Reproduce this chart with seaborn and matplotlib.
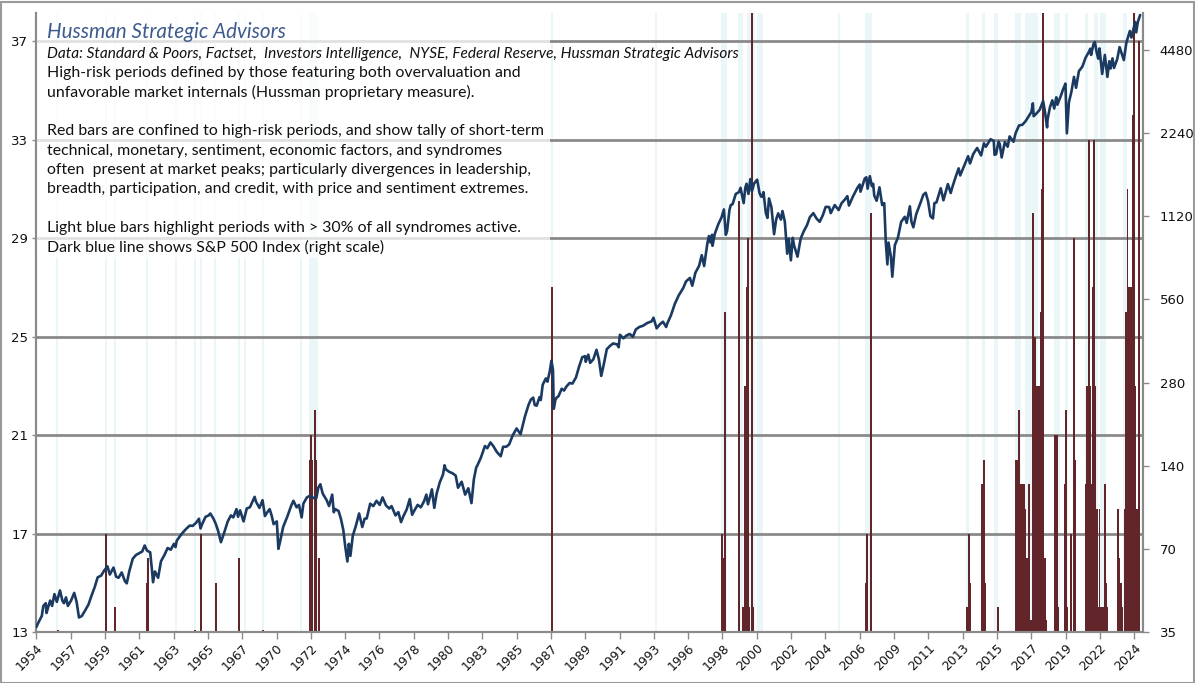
import matplotlib
matplotlib.use("Agg")
import matplotlib.pyplot as plt
from matplotlib.patches import Rectangle
from matplotlib.ticker import NullLocator
import pandas as pd
import seaborn as sns

# ---------------- data ----------------
sp_year = [
    1955.11, 1955.2, 1955.3, 1955.45, 1955.55, 1955.7, 1955.75, 1955.85, 1955.98,
    1956.1, 1956.25, 1956.4, 1956.6, 1956.75, 1956.85, 1956.98,
    1957.1, 1957.3, 1957.5, 1957.65, 1957.8, 1957.98,
    1958.2, 1958.4, 1958.6, 1958.8, 1958.98,
    1959.2, 1959.4, 1959.6, 1959.75, 1959.98,
    1960.15, 1960.3, 1960.5, 1960.7, 1960.82, 1960.98,
    1961.2, 1961.4, 1961.6, 1961.8, 1961.95,
    1962.1, 1962.3, 1962.42, 1962.48, 1962.6, 1962.8, 1962.98,
    1963.2, 1963.4, 1963.6, 1963.8, 1963.9, 1963.98,
    1964.3, 1964.6, 1964.8, 1964.98,
    1965.2, 1965.38, 1965.48, 1965.6, 1965.8, 1965.98,
    1966.1, 1966.3, 1966.45, 1966.6, 1966.77, 1966.98,
    1967.2, 1967.4, 1967.55, 1967.75, 1967.85, 1967.98,
    1968.2, 1968.4, 1968.6, 1968.9, 1968.98,
    1969.2, 1969.4, 1969.55, 1969.7, 1969.85, 1969.98,
    1970.1, 1970.3, 1970.4, 1970.5, 1970.7, 1970.98,
    1971.2, 1971.35, 1971.55, 1971.7, 1971.87, 1971.98,
    1972.2, 1972.4, 1972.6, 1972.8, 1972.92, 1972.98,
    1973.05, 1973.2, 1973.45, 1973.6, 1973.8, 1973.9, 1973.98,
    1974.2, 1974.35, 1974.5, 1974.63, 1974.76, 1974.85, 1974.95,
    1975.1, 1975.3, 1975.5, 1975.7, 1975.85, 1975.98,
    1976.2, 1976.4, 1976.6, 1976.8, 1976.98,
    1977.2, 1977.4, 1977.55, 1977.8, 1977.98,
    1978.15, 1978.3, 1978.5, 1978.7, 1978.85, 1978.98,
    1979.2, 1979.4, 1979.6, 1979.75, 1979.85, 1979.98,
    1980.1, 1980.25, 1980.4, 1980.6, 1980.8, 1980.9, 1980.98,
    1981.2, 1981.4, 1981.6, 1981.75, 1981.98,
    1982.2, 1982.4, 1982.6, 1982.75, 1982.9, 1982.98,
    1983.2, 1983.45, 1983.6, 1983.8, 1983.98,
    1984.2, 1984.45, 1984.6, 1984.8, 1984.98,
    1985.2, 1985.45, 1985.7, 1985.9, 1985.98,
    1986.2, 1986.35, 1986.5, 1986.6, 1986.72, 1986.9, 1986.98,
    1987.1, 1987.3, 1987.4, 1987.55, 1987.65, 1987.75, 1987.8, 1987.9, 1987.98,
    1988.1, 1988.3, 1988.45, 1988.6, 1988.8, 1988.98,
    1989.2, 1989.4, 1989.6, 1989.78, 1989.82, 1989.98,
    1990.1, 1990.3, 1990.5, 1990.65, 1990.8, 1990.98,
    1991.15, 1991.35, 1991.55, 1991.8, 1991.9, 1991.98,
    1992.2, 1992.4, 1992.6, 1992.8, 1992.98,
    1993.2, 1993.45, 1993.7, 1993.98,
    1994.1, 1994.3, 1994.5, 1994.7, 1994.9, 1994.98,
    1995.2, 1995.45, 1995.7, 1995.98,
    1996.15, 1996.4, 1996.55, 1996.75, 1996.98,
    1997.15, 1997.3, 1997.5, 1997.6, 1997.7, 1997.8, 1997.83, 1997.98,
    1998.2, 1998.4, 1998.55, 1998.67, 1998.75, 1998.9, 1998.98,
    1999.1, 1999.3, 1999.5, 1999.6, 1999.8, 1999.9, 1999.98,
    2000.1, 2000.22, 2000.32, 2000.45, 2000.65, 2000.8, 2000.9, 2000.98,
    2001.05, 2001.2, 2001.3, 2001.4, 2001.55, 2001.72, 2001.85, 2001.98,
    2002.15, 2002.25, 2002.4, 2002.55, 2002.65, 2002.78, 2002.9, 2002.98,
    2003.2, 2003.4, 2003.6, 2003.8, 2003.98,
    2004.2, 2004.4, 2004.6, 2004.8, 2004.98,
    2005.2, 2005.3, 2005.55, 2005.8, 2005.98,
    2006.2, 2006.35, 2006.45, 2006.7, 2006.98,
    2007.13, 2007.18, 2007.45, 2007.55, 2007.63, 2007.77, 2007.9, 2007.98,
    2008.05, 2008.2, 2008.38, 2008.55, 2008.68, 2008.78, 2008.88, 2008.95,
    2009.1, 2009.19, 2009.35, 2009.55, 2009.75, 2009.98,
    2010.1, 2010.3, 2010.4, 2010.52, 2010.7, 2010.98,
    2011.15, 2011.3, 2011.45, 2011.6, 2011.76, 2011.85, 2011.98,
    2012.25, 2012.42, 2012.7, 2012.88, 2012.98,
    2013.2, 2013.38, 2013.48, 2013.7, 2013.98,
    2014.1, 2014.3, 2014.55, 2014.8, 2014.98,
    2015.1, 2015.4, 2015.6, 2015.65, 2015.75, 2015.9, 2015.98,
    2016.1, 2016.3, 2016.48, 2016.6, 2016.85, 2016.98,
    2017.2, 2017.4, 2017.6, 2017.8, 2017.98,
    2018.07, 2018.12, 2018.3, 2018.5, 2018.72, 2018.85, 2018.97,
    2019.0, 2019.15, 2019.3, 2019.42, 2019.55, 2019.62, 2019.85, 2019.98,
    2020.13, 2020.22, 2020.35, 2020.5, 2020.67, 2020.8, 2020.98,
    2021.2, 2021.4, 2021.6, 2021.7, 2021.75, 2021.9, 2021.99,
    2022.1, 2022.2, 2022.28, 2022.45, 2022.62, 2022.78, 2022.9, 2022.98,
    2023.1, 2023.2, 2023.4, 2023.55, 2023.82, 2023.98,
    2024.2, 2024.3, 2024.53, 2024.6, 2024.7, 2024.85,
]
sp_value = [
    36.5, 37.5, 38.5, 40.0, 43.5, 44.5, 41.0, 43.0, 45.5,
    43.5, 48.0, 45.0, 49.5, 45.5, 44.5, 46.7,
    43.5, 45.5, 48.5, 45.0, 39.5, 40.0,
    42.0, 44.0, 47.5, 51.0, 55.2,
    56.0, 58.5, 60.5, 56.5, 59.9,
    55.5, 55.0, 57.5, 53.5, 52.5, 58.1,
    64.5, 66.5, 67.5, 68.5, 72.0,
    69.0, 68.0, 58.0, 53.0, 58.0, 55.0, 63.1,
    66.5, 70.5, 69.5, 73.0, 71.0, 75.0,
    79.5, 83.0, 85.0, 84.75,
    87.0, 90.0, 83.0, 86.5, 91.5, 92.4,
    94.0, 90.0, 86.0, 81.0, 74.0, 80.3,
    88.0, 92.5, 91.0, 97.5, 91.5, 96.5,
    88.0, 98.0, 99.0, 108.0, 103.9,
    98.5, 105.0, 92.0, 95.0, 97.5, 92.1,
    86.0, 88.0, 70.0, 74.0, 84.0, 92.15,
    100.0, 104.5, 99.0, 101.0, 91.0, 102.1,
    107.5, 109.0, 107.0, 107.0, 116.5, 118.05,
    120.0, 111.0, 105.0, 100.0, 110.0, 95.0, 97.55,
    96.0, 90.0, 82.0, 71.0, 63.0, 73.0, 66.0,
    78.0, 85.0, 94.0, 84.0, 90.0, 90.2,
    102.0, 100.0, 104.5, 101.0, 107.5,
    100.5, 98.0, 100.0, 92.5, 95.1,
    87.5, 92.0, 97.0, 106.0, 93.0, 96.1,
    101.0, 99.0, 104.0, 110.0, 101.5, 107.9,
    115.0, 98.5, 111.0, 122.0, 130.0, 140.5, 135.8,
    133.0, 131.5, 129.0, 116.5, 122.5,
    110.0, 116.0, 102.5, 125.0, 138.0, 140.6,
    150.0, 165.0, 162.0, 170.0, 164.9,
    157.0, 151.5, 164.0, 164.0, 167.2,
    180.0, 191.0, 182.0, 203.0, 211.3,
    232.0, 243.0, 247.0, 232.0, 231.0, 248.0, 242.2,
    275.0, 290.0, 282.0, 308.0, 336.0, 312.0, 225.0, 242.0, 247.1,
    250.0, 266.0, 262.0, 271.0, 279.0, 277.7,
    292.0, 320.0, 346.0, 349.0, 333.0, 353.4,
    330.0, 340.0, 368.0, 340.0, 296.0, 330.2,
    370.0, 380.0, 388.0, 385.0, 376.0, 417.1,
    405.0, 415.0, 420.0, 410.0, 435.7,
    445.0, 450.0, 460.0, 466.5,
    481.0, 440.0, 455.0, 465.0, 445.0, 459.3,
    490.0, 540.0, 580.0, 615.9,
    650.0, 670.0, 628.0, 700.0, 740.7,
    810.0, 740.0, 890.0, 950.0, 900.0, 960.0, 876.0, 970.4,
    1050.0, 1110.0, 1186.0, 960.0, 990.0, 1180.0, 1229.2,
    1240.0, 1350.0, 1370.0, 1420.0, 1250.0, 1420.0, 1469.3,
    1350.0, 1527.0, 1380.0, 1470.0, 1520.0, 1360.0, 1320.0, 1320.3,
    1370.0, 1150.0, 1105.0, 1300.0, 1210.0, 965.0, 1090.0, 1148.1,
    1090.0, 1170.0, 1070.0, 820.0, 930.0, 776.0, 936.0, 880.0,
    800.0, 930.0, 990.0, 1040.0, 1111.9,
    1150.0, 1100.0, 1070.0, 1130.0, 1211.9,
    1210.0, 1150.0, 1230.0, 1180.0, 1248.3,
    1290.0, 1325.0, 1225.0, 1320.0, 1418.3,
    1460.0, 1375.0, 1535.0, 1550.0, 1410.0, 1565.0, 1440.0, 1468.4,
    1330.0, 1275.0, 1426.0, 1230.0, 1250.0, 900.0, 750.0, 900.0,
    800.0, 677.0, 880.0, 940.0, 1070.0, 1115.1,
    1060.0, 1217.0, 1070.0, 1022.0, 1140.0, 1257.6,
    1340.0, 1363.0, 1270.0, 1120.0, 1100.0, 1250.0, 1257.6,
    1415.0, 1280.0, 1465.0, 1360.0, 1426.2,
    1560.0, 1670.0, 1575.0, 1690.0, 1848.4,
    1740.0, 1880.0, 1980.0, 1860.0, 2058.9,
    2000.0, 2130.0, 2100.0, 1870.0, 1880.0, 2090.0, 2044.0,
    1829.0, 2080.0, 2000.0, 2180.0, 2085.0, 2238.8,
    2390.0, 2400.0, 2470.0, 2575.0, 2673.6,
    2872.0, 2580.0, 2640.0, 2720.0, 2930.0, 2640.0, 2351.0,
    2510.0, 2780.0, 2945.0, 2750.0, 3020.0, 2840.0, 3070.0, 3230.8,
    3386.0, 2237.0, 2900.0, 3150.0, 3580.0, 3270.0, 3756.1,
    3900.0, 4200.0, 4400.0, 4530.0, 4300.0, 4700.0, 4790.0,
    4400.0, 4170.0, 4540.0, 3670.0, 4300.0, 3580.0, 4080.0, 3840.0,
    4180.0, 3860.0, 4150.0, 4590.0, 4120.0, 4770.0,
    5250.0, 4970.0, 5660.0, 5190.0, 5650.0, 6000.0,
]

red_year = [
    1956.49, 1959.51, 1960.06, 1962.08, 1962.16, 1965.11, 1965.49, 1966.44, 1967.89, 1969.45,
    1972.37, 1972.45, 1972.53, 1972.70, 1972.78, 1972.97,
    1987.71,
    1998.41, 1998.51, 1998.60, 1999.52, 1999.74, 1999.90, 1999.99, 2000.07, 2000.16, 2000.31, 2000.39,
    2007.51, 2007.59, 2007.83,
    2013.93, 2014.02, 2014.10, 2014.88, 2014.97, 2015.05, 2015.89,
    2016.99, 2017.07, 2017.18, 2017.26, 2017.34, 2017.43, 2017.51, 2017.60, 2017.68, 2017.77, 2017.85, 2017.94,
    2018.06, 2018.15, 2018.23, 2018.32, 2018.40, 2018.48, 2018.57, 2018.65, 2018.73, 2018.82, 2018.90,
    2019.49, 2019.58, 2019.66, 2020.08, 2020.17, 2020.25, 2020.46, 2020.67, 2020.75,
    2021.43, 2021.51, 2021.60, 2021.68, 2021.77, 2021.85, 2021.94, 2022.02, 2022.11, 2022.19,
    2022.28, 2022.37, 2022.45, 2022.53, 2022.62, 2022.70, 2022.78,
    2023.45, 2023.54, 2023.62, 2023.71,
    2023.88, 2023.97, 2024.05, 2024.14, 2024.22, 2024.30, 2024.39, 2024.45, 2024.51, 2024.60, 2024.68, 2024.76,
]
red_value = [
    13.1, 17, 14, 15, 16, 13.1, 17, 15, 16, 13.1,
    20, 21, 20, 22, 20, 16,
    27,
    17, 16, 26, 30.5, 14, 23, 27, 29, 14, 40, 14,
    15, 17, 30,
    14, 17, 15, 19, 20, 15, 14,
    20, 20, 22, 16, 19, 19, 19, 18, 16, 16, 19, 13.5,
    30, 23, 25, 23, 16, 23, 26, 31, 40, 16, 13.5,
    21, 21, 14, 19, 22, 14, 17, 29, 20,
    19, 23, 33, 23, 19, 27, 33, 23, 18, 14,
    18, 14, 14, 14, 19, 15, 14,
    18, 16, 15, 14,
    18, 26, 31, 27, 27, 27, 34, 40, 23, 18, 18, 37,
]

blue_start = [1956.38, 1959.45, 1960.02, 1962.04, 1963.87, 1965.07, 1965.45, 1966.34, 1967.86,
              1968.25, 1969.39, 1971.79, 1972.36, 1987.63, 1994.20, 1998.35, 1999.44, 1999.99,
              2000.64, 2005.78, 2007.46, 2013.85, 2014.86, 2015.63, 2016.94, 2017.57, 2019.41,
              2020.08, 2021.34, 2021.91, 2022.29, 2023.79]
blue_end = [1956.50, 1959.57, 1960.14, 1962.16, 1963.99, 1965.19, 1965.57, 1966.46, 1967.98,
            1968.37, 1969.51, 1971.91, 1972.90, 1987.75, 1994.32, 1998.73, 1999.74, 2000.52,
            2001.00, 2005.90, 2007.89, 2014.06, 2015.05, 2015.85, 2017.30, 2018.41, 2019.79,
            2020.27, 2021.53, 2022.16, 2022.71, 2024.00]

left_ticks = [13, 17, 21, 25, 29, 33, 37]
right_ticks = [35, 70, 140, 280, 560, 1120, 2240, 4480]
x_labels = ["1954", "1957", "1959", "1961", "1963", "1965", "1967", "1970", "1972", "1974",
            "1976", "1978", "1980", "1983", "1985", "1987", "1989", "1991", "1993", "1996",
            "1998", "2000", "2002", "2004", "2006", "2009", "2011", "2013", "2015", "2017",
            "2019", "2022", "2024"]

title = "Hussman Strategic Advisors"
source = ("Data: Standard & Poors, Factset,  Investors Intelligence,  NYSE, Federal Reserve, "
          "Hussman Strategic Advisors")
body = [
    "High-risk periods defined by those featuring both overvaluation and",
    "unfavorable market internals (Hussman proprietary measure).",
    "",
    "Red bars are confined to high-risk periods, and show tally of short-term",
    "technical, monetary, sentiment, economic factors, and syndromes",
    "often  present at market peaks; particularly divergences in leadership,",
    "breadth, participation, and credit, with price and sentiment extremes.",
    "",
    "Light blue bars highlight periods with > 30% of all syndromes active.",
    "Dark blue line shows S&P 500 Index (right scale)",
]

# ---------------- style ----------------
sns.set_theme(style="white")
plt.rcParams['font.family'] = ['DejaVu Sans']

W, H = 1195, 683
fig = plt.figure(figsize=(W / 100, H / 100), dpi=100)
fig.patch.set_facecolor("white")

x0, x1 = 36.4, 1143.0
ytop, ybot = 13.0, 632.0
ax = fig.add_axes([x0 / W, 1 - ybot / H, (x1 - x0) / W, (ybot - ytop) / H])
ax2 = ax.twinx()

xmin, xmax = 1955.11, 2025.03
tick_step = 2.1675
ymin_l, ymax_l = 13.0, 38.14

GRID = "#8a8a8a"
BLUE_BAND = "#ebf6f9"
RED = "#62252a"
LINE = "#1b3a62"

# light blue bands
ax.bar(blue_start, [ymax_l - ymin_l] * len(blue_start), bottom=ymin_l,
       width=[e - s for s, e in zip(blue_start, blue_end)], align="edge",
       color=BLUE_BAND, linewidth=0, zorder=0.5)

# gridlines
for v in left_ticks[1:]:
    ax.axhline(v, color=GRID, lw=2.0, zorder=1)

# red bars
ax.bar(red_year, [v - ymin_l for v in red_value], bottom=ymin_l, width=0.12,
       color=RED, linewidth=0, zorder=2)

# translucent text panel
ax.add_patch(Rectangle((0, 0.604), 0.4641, 0.396, transform=ax.transAxes,
                       facecolor="white", alpha=0.75, edgecolor="none", zorder=5))

ax.set_xlim(xmin, xmax)
ax.set_ylim(ymin_l, ymax_l)
ax.set_yticks(left_ticks)
ax.set_yticklabels([str(t) for t in left_ticks])
ax.set_xticks([xmin + i * tick_step for i in range(len(x_labels))])
ax.set_xticklabels(x_labels, rotation=45, ha="right", rotation_mode="anchor")

# S&P 500 line
df = pd.DataFrame({"year": sp_year, "spx": sp_value})
sns.lineplot(data=df, x="year", y="spx", ax=ax2, color=LINE, linewidth=1.9,
             sort=False, estimator=None, zorder=6)
ax2.set_yscale("log")
ax2.set_ylim(35, 6100)
ax2.set_xlim(xmin, xmax)
ax2.set_yticks(right_ticks)
ax2.set_yticklabels([str(t) for t in right_ticks])
ax2.yaxis.set_minor_locator(NullLocator())
ax2.set_xlabel("")
ax2.set_ylabel("")
ax.set_xlabel("")
ax.set_ylabel("")

for a in (ax, ax2):
    a.spines["top"].set_visible(False)
    for side in ("left", "right", "bottom"):
        a.spines[side].set_color(GRID)
        a.spines[side].set_linewidth(1.5)

ax.tick_params(axis="x", which="major", direction="out", length=5, width=1, color=GRID,
               labelsize=9, labelcolor="#111111", pad=2, bottom=True)
ax.tick_params(axis="y", which="major", direction="out", length=3, width=1, color=GRID,
               labelsize=9.5, labelcolor="#111111", pad=3, left=True)
ax2.tick_params(axis="y", which="major", direction="out", length=4, width=1, color=GRID,
                labelsize=9.5, labelcolor="#111111", pad=8, right=True)
ax.grid(False)
ax2.grid(False)

# ---------------- text ----------------
tx = 47 / W
fonts = ["Lato", "DejaVu Sans"]
fig.text(tx, 1 - 31.7 / H, title, family=fonts, style="italic",
         fontsize=14.9, color="#3d5b8c", va="center", ha="left", zorder=10)
fig.text(tx, 1 - 53.7 / H, source, family=fonts, style="italic",
         fontsize=11.1, color="#111111", va="center", ha="left", zorder=10)
for i, line in enumerate(body):
    if line:
        fig.text(tx, 1 - (73.3 + i * 19.35) / H, line, family=fonts,
                 fontsize=11.4, color="#111111", va="center", ha="left", zorder=10)

# outer frame
fig.add_artist(Rectangle((0.5 / W, 0.5 / H), (W - 1.5) / W, (H - 2) / H,
                         transform=fig.transFigure, fill=False, edgecolor="#9a9a9a", lw=1.5))

fig.savefig("out.png", dpi=100, facecolor="white")
